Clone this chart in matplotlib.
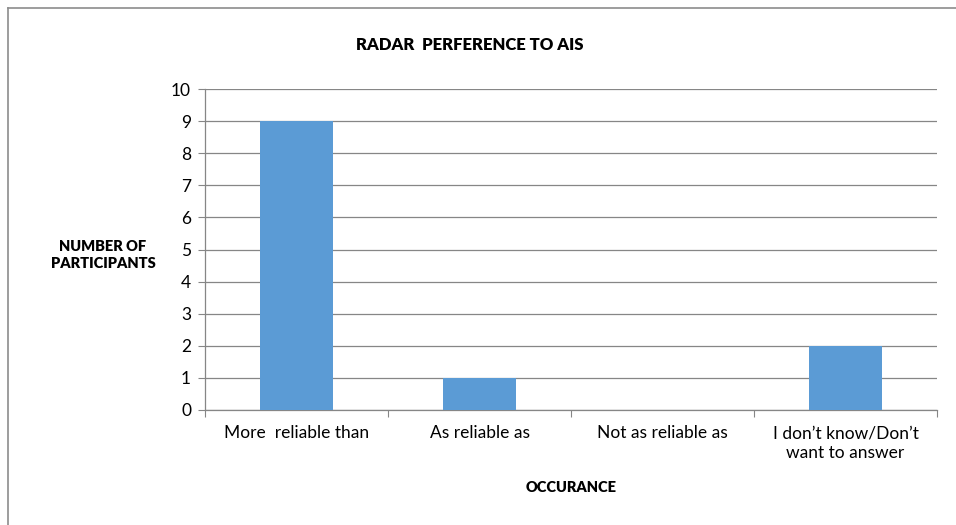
import matplotlib
matplotlib.use("Agg")
import matplotlib.pyplot as plt
from matplotlib.lines import Line2D

categories = ["More  reliable than", "As reliable as", "Not as reliable as", "I don\u2019t know/Don\u2019t\nwant to answer"]
values = [9, 1, 0, 2]
yticks = list(range(0, 11))

plt.rcParams['font.family'] = ['Lato', 'DejaVu Sans']

W, H = 956, 525
fig = plt.figure(figsize=(W/100, H/100), dpi=100)
ax = fig.add_axes([205/W, 1-410/H, (937-205)/W, (410-89)/H])

x = list(range(len(categories)))
ax.bar(x, values, width=0.4, color="#5B9BD5", zorder=3)
ax.set_xlim(-0.5, len(categories)-0.5)
ax.set_ylim(0, 10)
ax.set_yticks(yticks)
ax.tick_params(axis='y', length=5, color="#868686", labelsize=12.5, pad=5)
ax.grid(axis='y', color="#868686", linewidth=0.9, zorder=0)
ax.set_xticks([i - 0.5 for i in range(len(categories)+1)], minor=False)
ax.set_xticklabels([])
ax.tick_params(axis='x', length=5, color="#868686", direction='out')
ax.set_xticks(x, minor=True)
ax.set_xticklabels(categories, minor=True, fontsize=12.5, linespacing=1.25)
ax.tick_params(axis='x', which='minor', length=0, pad=11)
for s in ['top', 'right']:
    ax.spines[s].set_visible(False)
for s in ['left', 'bottom']:
    ax.spines[s].set_color("#868686")
    ax.spines[s].set_linewidth(0.9)

fig.text(470/W, 1-45/H, "RADAR  PERFERENCE TO AIS", ha='center', va='center', fontsize=12, fontweight=800)
fig.text(103/W, 1-255/H, "NUMBER OF\nPARTICIPANTS", ha='center', va='center', fontsize=10.5, fontweight=800, linespacing=1.35)
fig.text(571/W, 1-488/H, "OCCURANCE", ha='center', va='center', fontsize=10.5, fontweight=800)

# outer chart border (top and left visible)
fig.add_artist(Line2D([7.5/W, 7.5/W], [0, 1-8/H], transform=fig.transFigure, color="#8c8c8c", linewidth=1.2))
fig.add_artist(Line2D([7.5/W, 1], [1-8/H, 1-8/H], transform=fig.transFigure, color="#8c8c8c", linewidth=1.2))

fig.savefig("out.png", dpi=100)
